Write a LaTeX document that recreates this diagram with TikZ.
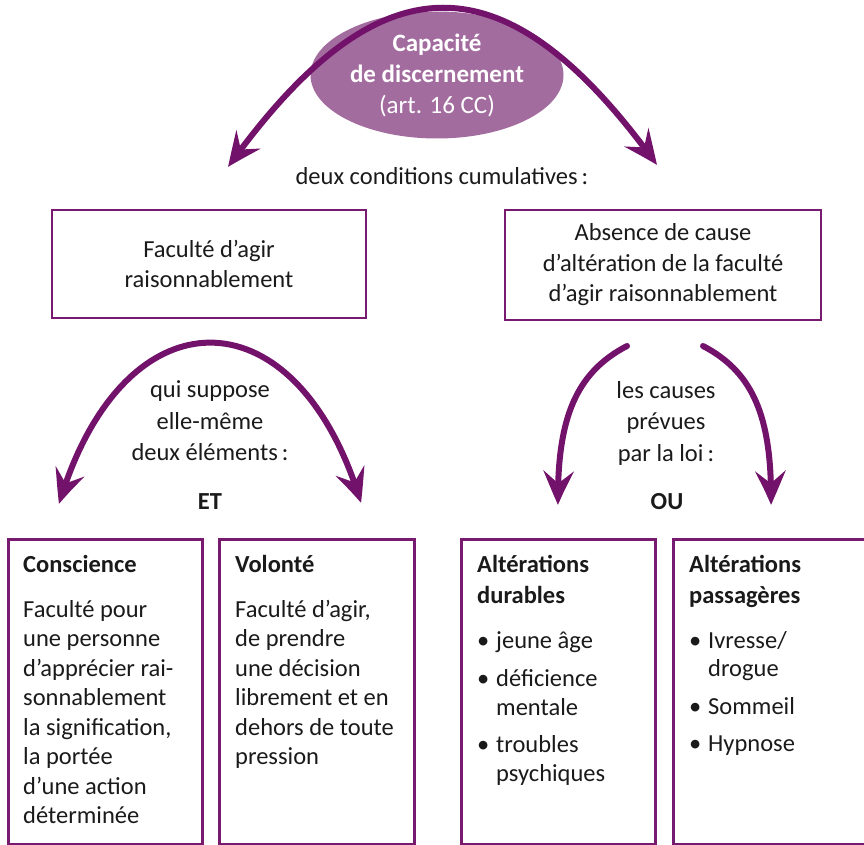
\documentclass[tikz,border=0pt]{standalone}
\usepackage{fontspec}
\setmainfont{Carlito}
\usetikzlibrary{arrows.meta,shapes.geometric,bending}
\definecolor{arcpurple}{HTML}{73126B}
\definecolor{ellpurple}{HTML}{A36C9F}
\definecolor{boxpurple}{HTML}{781A70}
\definecolor{txt}{HTML}{1A1A1A}
\tikzset{
  arcline/.style={draw=arcpurple, line width=6pt, line cap=round},
  tip/.style={-{Stealth[length=35pt,width=30pt,inset=13pt,bend]}},
  twotip/.style={{Stealth[length=35pt,width=30pt,inset=13pt,bend]}-{Stealth[length=35pt,width=30pt,inset=13pt,bend]}},
  topbox/.style={draw=boxpurple, line width=2.6pt, rectangle, inner sep=0pt, align=center, text=txt,
     font={\fontsize{24.5}{30.5}\selectfont}},
  lowbox/.style={draw=boxpurple, line width=2.6pt, rectangle, inner sep=0pt, anchor=north west,
     minimum width=#1, minimum height=305pt},
  bodytext/.style={inner sep=0pt, anchor=base west, text=txt,
     font={\fontsize{24.5}{29.5}\selectfont}},
  bultext/.style={inner sep=0pt, anchor=base west, text=txt,
     font={\fontsize{24.5}{28.5}\selectfont}},
  headtext/.style={inner sep=0pt, anchor=base west, text=txt,
     font={\fontsize{24.5}{31}\selectfont\bfseries}},
  label/.style={inner sep=0pt, align=center, text=txt, font={\fontsize{24.5}{31.5}\selectfont}},
}
\newcommand{\bul}{\makebox[19pt][l]{\textbullet}}
\newcommand{\nobul}{\hspace*{19pt}}
\begin{document}
\begin{tikzpicture}[x=1pt,y=-1pt]
\useasboundingbox (0,0) rectangle (864,845);
% top ellipse
\node[ellipse, fill=ellpurple, minimum width=253pt, minimum height=127pt, inner sep=0pt,
      text=white, align=center, font={\fontsize{25}{31}\selectfont}] (cap) at (437,75)
      {\textbf{Capacité}\\\textbf{de discernement}\\(art. 16 CC)};
\coordinate (tl) at (228,167);
\coordinate (tr) at (657,165);
\draw[arcline, twotip] (tl) .. controls (380,-45) and (506,-45) .. (tr);
\node[label] (cond) at (442,176) {deux conditions cumulatives\,:};
% top boxes
\node[topbox, minimum width=314pt, minimum height=108pt] (fac) at (209,264)
  {Faculté d’agir\\raisonnablement};
\node[topbox, minimum width=316pt, minimum height=110pt] (abs) at (663,265)
  {Absence de cause\\d’altération de la faculté\\d’agir raisonnablement};
% middle left arc
\coordinate (ml) at (59,504);
\coordinate (mr) at (361,503);
\draw[arcline, twotip] (ml) .. controls (123,289) and (297,289) .. (mr);
\node[label] (qui) at (210,421) {qui suppose\\elle-même\\deux éléments\,:};
\node[label, font={\fontsize{24.5}{31}\selectfont\bfseries}] (et) at (210,502) {ET};
% middle right arcs
\coordinate (rs1) at (627,346);
\coordinate (re1) at (558,505);
\coordinate (rs2) at (703,346);
\coordinate (re2) at (771,505);
\draw[arcline, tip] (rs1) .. controls (575,373) and (557,420) .. (re1);
\draw[arcline, tip] (rs2) .. controls (755,373) and (772,420) .. (re2);
\node[label] (causes) at (666,423) {les causes\\prévues\\par la loi\,:};
\node[label, font={\fontsize{24.5}{31}\selectfont\bfseries}] (ou) at (667,502) {OU};
% bottom boxes
\node[lowbox=194pt] (b1) at (7,538) {};
\node[lowbox=195pt] (b2) at (218,538) {};
\node[lowbox=194pt] (b3) at (460,538) {};
\node[lowbox=196pt] (b4) at (672,538) {};
% Conscience
\node[headtext] (h1) at (23,572) {Conscience};
\node[bodytext] (t1) at (23,617) {\begin{tabular}[t]{@{}l@{}}Faculté pour\\une personne\\d’apprécier rai-\\sonnablement\\la signification,\\la portée\\d’une action\\déterminée\end{tabular}};
% Volonte
\node[headtext] (h2) at (235,572) {Volonté};
\node[bodytext] (t2) at (235,617) {\begin{tabular}[t]{@{}l@{}}Faculté d’agir,\\de prendre\\une décision\\librement et en\\dehors de toute\\pression\end{tabular}};
% Durables
\node[headtext] (h3) at (477,572) {\begin{tabular}[t]{@{}l@{}}Altérations\\durables\end{tabular}};
\node[bultext] (t3) at (477,648)
  {\begin{tabular}[t]{@{}l@{}}\bul jeune âge\\[10pt]\bul déficience\\\nobul mentale\\[9pt]\bul troubles\\\nobul psychiques\end{tabular}};
% Passageres
\node[headtext] (h4) at (689,572) {\begin{tabular}[t]{@{}l@{}}Altérations\\passagères\end{tabular}};
\node[bultext] (t4) at (689,648)
  {\begin{tabular}[t]{@{}l@{}}\bul Ivresse/\\\nobul drogue\\[9pt]\bul Sommeil\\[9pt]\bul Hypnose\end{tabular}};
\end{tikzpicture}
\end{document}
